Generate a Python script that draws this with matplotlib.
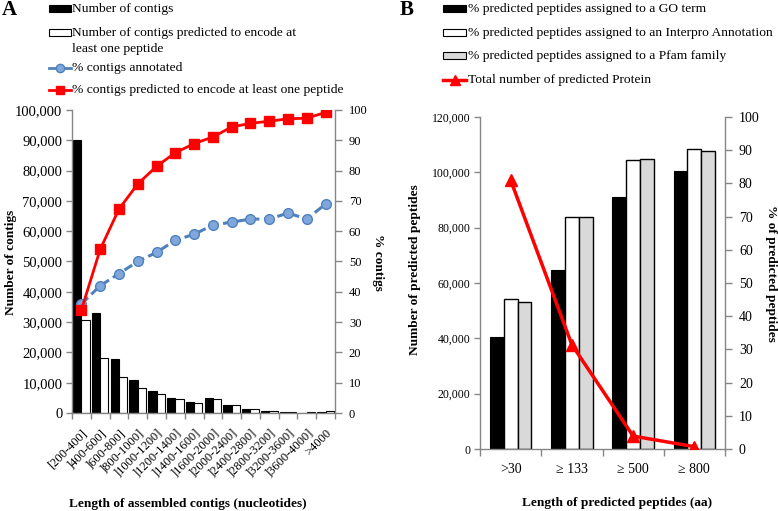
import matplotlib
matplotlib.use("Agg")
import matplotlib.pyplot as plt
import numpy as np
from matplotlib.patches import Rectangle
from matplotlib.lines import Line2D
from matplotlib.ticker import FuncFormatter, FixedLocator, MultipleLocator

plt.rcParams['font.family'] = ['Liberation Serif', 'DejaVu Serif']

# ---------------- Panel A data ----------------
a_categories = ["[200-400]", "]400-600]", "]600-800]", "]800-1000]", "]1000-1200]",
                "]1200-1400]", "]1400-1600]", "]1600-2000]", "]2000-2400]", "]2400-2800]",
                "]2800-3200]", "]3200-3600]", "]3600-4000]", ">4000"]
a_contigs = [90000, 33000, 17800, 11000, 7400, 5100, 3600, 4900, 2600, 1400, 800, 400, 100, 400]
a_contigs_pred = [30700, 18000, 12000, 8300, 6200, 4500, 3300, 4600, 2500, 1300, 700, 400, 200, 600]
a_pct_annot = [36, 42, 46, 50, 53, 57, 59, 62, 63, 64, 64, 66, 64, 69]
a_pct_pred = [34, 54, 67.3, 75.6, 81.4, 85.9, 88.9, 91.1, 94.4, 95.6, 96.3, 97.1, 97.3, 99.2]

# ---------------- Panel B data ----------------
b_categories = [">30", "≥ 133", "≥ 500", "≥ 800"]
b_go = [40600, 64800, 91100, 100500]
b_interpro = [54300, 83900, 104400, 108300]
b_pfam = [53000, 84000, 104900, 107800]
b_total_pct = [81, 31.4, 3.9, 0.7]

W, H = 778, 511
fig = plt.figure(figsize=(W / 100, H / 100), dpi=100)

GRAY = '#868686'
BLUE = '#4f81bd'
BLUE_FACE = '#7fa7dc'
RED = '#ff0000'
LFS = 9.7   # legend text
TFS = 9.6   # axis titles


def fx(px):
    return px / W


def fy(py):
    return 1 - py / H


def style_axes(ax, ax2, lsize, rsize):
    ax.spines['top'].set_visible(False)
    ax2.spines['top'].set_visible(False)
    ax.spines['right'].set_visible(False)
    ax2.spines['left'].set_visible(False)
    ax2.spines['bottom'].set_visible(False)
    for sp in ['left', 'bottom']:
        ax.spines[sp].set_color(GRAY)
        ax.spines[sp].set_linewidth(1.0)
    ax2.spines['right'].set_color(GRAY)
    ax2.spines['right'].set_linewidth(1.0)
    ax.tick_params(axis='y', direction='out', length=4, width=1, color=GRAY, pad=3, labelsize=lsize)
    ax2.tick_params(axis='y', direction='out', length=5, width=1, color=GRAY, pad=5, labelsize=rsize)
    ax.yaxis.set_major_formatter(FuncFormatter(lambda v, p: f"{int(v):,}"))


# ================= Panel A =================
axA = fig.add_axes([fx(72), fy(413), fx(335) - fx(72), fy(110) - fy(413)])
axA2 = axA.twinx()
xa = np.arange(len(a_categories))
bw = 0.44
axA.bar(xa - bw / 2, a_contigs, width=bw, color='black', edgecolor='black', linewidth=0.8, zorder=2)
axA.bar(xa + bw / 2, a_contigs_pred, width=bw, color='white', edgecolor='black', linewidth=0.8, zorder=2)
axA.set_ylim(0, 100000)
axA.set_xlim(-0.5, len(a_categories) - 0.5)
axA.yaxis.set_major_locator(MultipleLocator(10000))
axA2.set_ylim(0, 100)
axA2.yaxis.set_major_locator(MultipleLocator(10))
axA2.plot(xa, a_pct_annot, color=BLUE, linestyle=(0, (3, 1.5)), linewidth=2.2,
          marker='o', markersize=7, markerfacecolor=BLUE_FACE, markeredgecolor=BLUE,
          markeredgewidth=1, zorder=3)
axA2.plot(xa, a_pct_pred, color=RED, linewidth=2, marker='s', markersize=6.5,
          markerfacecolor=RED, markeredgecolor=RED, zorder=4)
style_axes(axA, axA2, 10.5, 9)
axA.xaxis.set_major_locator(FixedLocator(np.arange(-0.5, len(a_categories), 1.0)))
axA.set_xticklabels([''] * len(axA.get_xticks()))
axA.set_xticks(xa, minor=True)
axA.set_xticklabels(a_categories, minor=True, rotation=45, ha='right', rotation_mode='anchor', fontsize=9)
axA.tick_params(axis='x', which='major', direction='out', length=4, width=1, color=GRAY)
axA.tick_params(axis='x', which='minor', length=0, pad=10)
fig.text(fx(11), fy(262), "Number of contigs", fontsize=TFS, fontweight='bold',
         rotation=90, ha='center', va='center')
fig.text(fx(378), fy(262), "% contigs", fontsize=TFS, fontweight='bold',
         rotation=270, ha='center', va='center')
fig.text(fx(188), fy(504), "Length of assembled contigs (nucleotides)", fontsize=TFS,
         fontweight='bold', ha='center', va='center')
fig.text(fx(2), fy(10), "A", fontsize=15, fontweight='bold', ha='left', va='center')


# Legend helpers (manual legends)
def rect_handle(x0, x1, yc, face, edge='black', h=7):
    fig.add_artist(Rectangle((fx(x0), fy(yc + h / 2)), fx(x1) - fx(x0), fy(yc - h / 2) - fy(yc + h / 2),
                             transform=fig.transFigure, facecolor=face, edgecolor=edge, linewidth=0.8))


def line_handle(x0, x1, yc, color, lw, marker, ms, mfc, mec):
    fig.add_artist(Line2D([fx(x0), fx(x1)], [fy(yc), fy(yc)], transform=fig.transFigure,
                          color=color, linewidth=lw))
    fig.add_artist(Line2D([fx((x0 + x1) / 2)], [fy(yc)], transform=fig.transFigure,
                          linestyle='none', marker=marker, markersize=ms,
                          markerfacecolor=mfc, markeredgecolor=mec))


rect_handle(49, 71, 9, 'black')
fig.text(fx(72), fy(9), "Number of contigs", fontsize=LFS, ha='left', va='center')
rect_handle(49, 71, 33, 'white')
fig.text(fx(72), fy(33), "Number of contigs predicted to encode at", fontsize=LFS, ha='left', va='center')
fig.text(fx(72), fy(49), "least one peptide", fontsize=LFS, ha='left', va='center')
line_handle(49, 71, 68, BLUE, 2, 'o', 6, BLUE_FACE, BLUE)
fig.text(fx(72), fy(68), "% contigs annotated", fontsize=LFS, ha='left', va='center')
line_handle(49, 71, 90, RED, 2, 's', 6, RED, RED)
fig.text(fx(72), fy(90), "% contigs predicted to encode at least one peptide", fontsize=LFS, ha='left', va='center')

# ================= Panel B =================
axB = fig.add_axes([fx(480), fy(449), fx(725) - fx(480), fy(117) - fy(449)])
axB2 = axB.twinx()
xb = np.arange(len(b_categories))
bwb = 0.225
axB.bar(xb - bwb, b_go, width=bwb, color='black', edgecolor='black', linewidth=0.8, zorder=2)
axB.bar(xb, b_interpro, width=bwb, color='white', edgecolor='black', linewidth=1.0, zorder=2)
axB.bar(xb + bwb, b_pfam, width=bwb, color='#d9d9d9', edgecolor='black', linewidth=1.0, zorder=2)
axB.set_ylim(0, 120000)
axB.set_xlim(-0.5, len(b_categories) - 0.5)
axB.yaxis.set_major_locator(MultipleLocator(20000))
axB2.set_ylim(0, 100)
axB2.yaxis.set_major_locator(MultipleLocator(10))
axB2.plot(xb, b_total_pct, color=RED, linewidth=2.5, marker='^', markersize=8,
          markerfacecolor=RED, markeredgecolor=RED, zorder=4)
style_axes(axB, axB2, 8.5, 10)
axB.xaxis.set_major_locator(FixedLocator(np.arange(-0.5, len(b_categories), 1.0)))
axB.set_xticklabels([''] * len(axB.get_xticks()))
axB.set_xticks(xb, minor=True)
axB.set_xticklabels(b_categories, minor=True, fontsize=10)
axB.tick_params(axis='x', which='major', direction='out', length=5, width=1, color=GRAY)
axB.tick_params(axis='x', which='minor', length=0, pad=10)
fig.text(fx(415), fy(270), "Number of predicted peptides", fontsize=TFS, fontweight='bold',
         rotation=90, ha='center', va='center')
fig.text(fx(771), fy(273), "% of predicted peptides", fontsize=TFS, fontweight='bold',
         rotation=270, ha='center', va='center')
fig.text(fx(617), fy(503), "Length of predicted peptides (aa)", fontsize=TFS,
         fontweight='bold', ha='center', va='center')
fig.text(fx(400), fy(10), "B", fontsize=15, fontweight='bold', ha='left', va='center')

rect_handle(443, 466, 9, 'black')
fig.text(fx(468), fy(9), "% predicted peptides assigned to a GO term", fontsize=LFS, ha='left', va='center')
rect_handle(443, 466, 33, 'white')
fig.text(fx(468), fy(33), "% predicted peptides assigned to an Interpro Annotation", fontsize=LFS, ha='left', va='center')
rect_handle(443, 466, 56, '#d9d9d9')
fig.text(fx(468), fy(56), "% predicted peptides assigned to a Pfam family", fontsize=LFS, ha='left', va='center')
line_handle(443, 466, 80, RED, 2.5, '^', 7, RED, RED)
fig.text(fx(468), fy(80), "Total number of predicted Protein", fontsize=LFS, ha='left', va='center')

fig.savefig("out.png", dpi=100)
